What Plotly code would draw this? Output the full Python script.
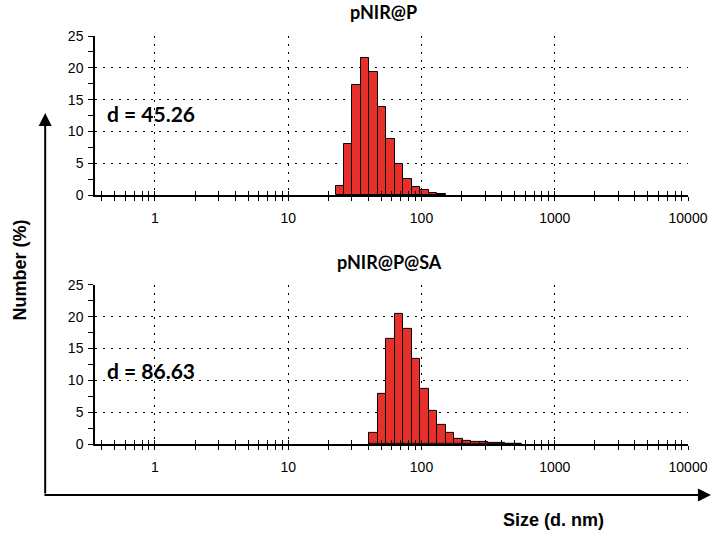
import plotly.graph_objects as go

# Malvern size classes (bin centres, nm) and number distribution (%)
sizes_p = [24.36, 28.21, 32.67, 37.84, 43.82, 50.75, 58.77, 68.06, 78.82,
           91.28, 105.7, 122.4, 141.8]
number_p = [1.5, 8.0, 17.3, 21.5, 19.3, 13.8, 8.8, 4.9, 2.6, 1.3, 0.74, 0.37, 0.15]

sizes_sa = [43.82, 50.75, 58.77, 68.06, 78.82, 91.28, 105.7, 122.4, 141.8,
            164.2, 190.1, 220.2, 255.0, 295.3, 342.0, 396.1, 458.7, 531.2]
number_sa = [1.7, 7.9, 16.5, 20.4, 18.1, 13.3, 8.6, 5.2, 3.0, 1.7, 0.88, 0.52,
             0.3, 0.28, 0.15, 0.1, 0.05, 0.02]

titles = ["pNIR@P", "pNIR@P@SA"]
d_labels = ["d = 45.26", "d = 86.63"]
x_title = "Size (d. nm)"
y_title = "Number (%)"
decades = [1, 10, 100, 1000, 10000]
decade_text = ["1", "10", "100", "1000", "10000"]
y_ticks = [0, 5, 10, 15, 20, 25]

RATIO = 25000 ** (1 / 69)  # Malvern class ratio
minor_vals = [m * 10 ** e for e in range(-1, 4) for m in range(2, 10)]
minor_vals = [v for v in minor_vals if 0.35 < v < 10000]
all_vals = sorted(minor_vals + decades)

RED = "#e8302a"
fig = go.Figure()


def bars(sizes, vals, xa, ya):
    lo = [s / RATIO ** 0.5 for s in sizes]
    hi = [s * RATIO ** 0.5 for s in sizes]
    fig.add_trace(go.Bar(
        x=[(a + b) / 2 for a, b in zip(lo, hi)], y=vals,
        width=[b - a for a, b in zip(lo, hi)],
        marker=dict(color=RED, line=dict(color="black", width=1)),
        xaxis=xa, yaxis=ya, showlegend=False, hoverinfo="x+y"))


bars(sizes_p, number_p, "x", "y")
bars(sizes_sa, number_sa, "x2", "y2")
# empty traces for overlay axes (inner halves of ticks)
fig.add_trace(go.Scatter(x=[], y=[], xaxis="x3", yaxis="y", showlegend=False))
fig.add_trace(go.Scatter(x=[], y=[], xaxis="x4", yaxis="y2", showlegend=False))

XR = [-0.45, 4.0]
tickfont = dict(family="Liberation Sans, Arial", size=14, color="black")
dot = "2px,6px"


def xaxis(anchor):
    return dict(type="log", range=XR, anchor=anchor,
                tickmode="array", tickvals=decades, ticktext=decade_text,
                ticks="outside", ticklen=4, tickcolor="black", tickwidth=1,
                showgrid=True, gridcolor="black", griddash=dot, gridwidth=1.2,
                showline=True, linecolor="black", linewidth=1.5,
                zeroline=False, tickfont=tickfont, ticklabelstandoff=5,
                minor=dict(tickmode="array", tickvals=minor_vals, ticks="outside",
                           ticklen=4, tickcolor="black", tickwidth=1, showgrid=False),
                fixedrange=True)


def xover(over, anchor):
    return dict(type="log", range=XR, overlaying=over, anchor=anchor,
                tickmode="array", tickvals=all_vals, ticks="inside", ticklen=4,
                tickcolor="black", tickwidth=1, showticklabels=False,
                showgrid=False, showline=False, zeroline=False, fixedrange=True)


def yaxis(anchor, domain):
    return dict(range=[0, 25], domain=domain, anchor=anchor,
                tickmode="array", tickvals=y_ticks,
                ticks="outside", ticklen=5, tickcolor="black", tickwidth=1,
                showgrid=True, gridcolor="black", griddash=dot, gridwidth=1.2,
                showline=True, linecolor="black", linewidth=1.5,
                zeroline=False, tickfont=tickfont, ticklabelstandoff=2,
                minor=dict(dtick=2.5, ticks="outside", ticklen=5,
                           tickcolor="black", tickwidth=1, showgrid=False),
                fixedrange=True)


fig.update_layout(
    width=720, height=534,
    margin=dict(l=95, r=30, t=36, b=90),
    paper_bgcolor="white", plot_bgcolor="white",
    bargap=0,
    xaxis=xaxis("y"),
    xaxis2=xaxis("y2"),
    xaxis3=xover("x", "y"),
    xaxis4=xover("x2", "y2"),
    yaxis=yaxis("x", [0.61, 1.0]),
    yaxis2=yaxis("x2", [0.0, 0.39]),
)


def note(text, x, y, font, **kw):
    d = dict(text=text, x=x, y=y, xref="paper", yref="paper", showarrow=False,
             xanchor="center", yanchor="middle", font=font)
    d.update(kw)
    return d


ann = []
ttl_font = dict(family="Lato, Open Sans", size=18, color="black", weight="bold")
ann.append(note(titles[0], 0.487, 1.058, ttl_font))
ann.append(note(titles[1], 0.496, 0.446, ttl_font))
d_font = dict(family="Lato, Open Sans", size=21, color="black", weight="bold")
ann.append(note(d_labels[0], 0.017, 0.811, d_font, xanchor="left"))
ann.append(note(d_labels[1], 0.017, 0.181, d_font, xanchor="left"))
ax_font = dict(family="Liberation Sans, Arial", size=18, color="black", weight="bold")
ann.append(note(y_title, -0.126, 0.426, ax_font, textangle=-90))
ann.append(note(x_title, 0.773, -0.186, ax_font))
# frame arrows
ann.append(dict(text="", x=-0.084, y=0.811, xref="paper", yref="paper",
                ax=0, ay=382, axref="pixel", ayref="pixel", showarrow=True,
                arrowhead=2, arrowsize=1.3, arrowwidth=2, arrowcolor="black"))
ann.append(dict(text="", x=1.0387, y=-0.125, xref="paper", yref="paper",
                ax=-668, ay=0, axref="pixel", ayref="pixel", showarrow=True,
                arrowhead=2, arrowsize=1.3, arrowwidth=2, arrowcolor="black"))
fig.update_layout(annotations=ann)

fig.write_html("out.html",
               config={"displayModeBar": False},
               post_script="document.body.style.margin='0px';"
                           "document.body.style.overflow='hidden';")
